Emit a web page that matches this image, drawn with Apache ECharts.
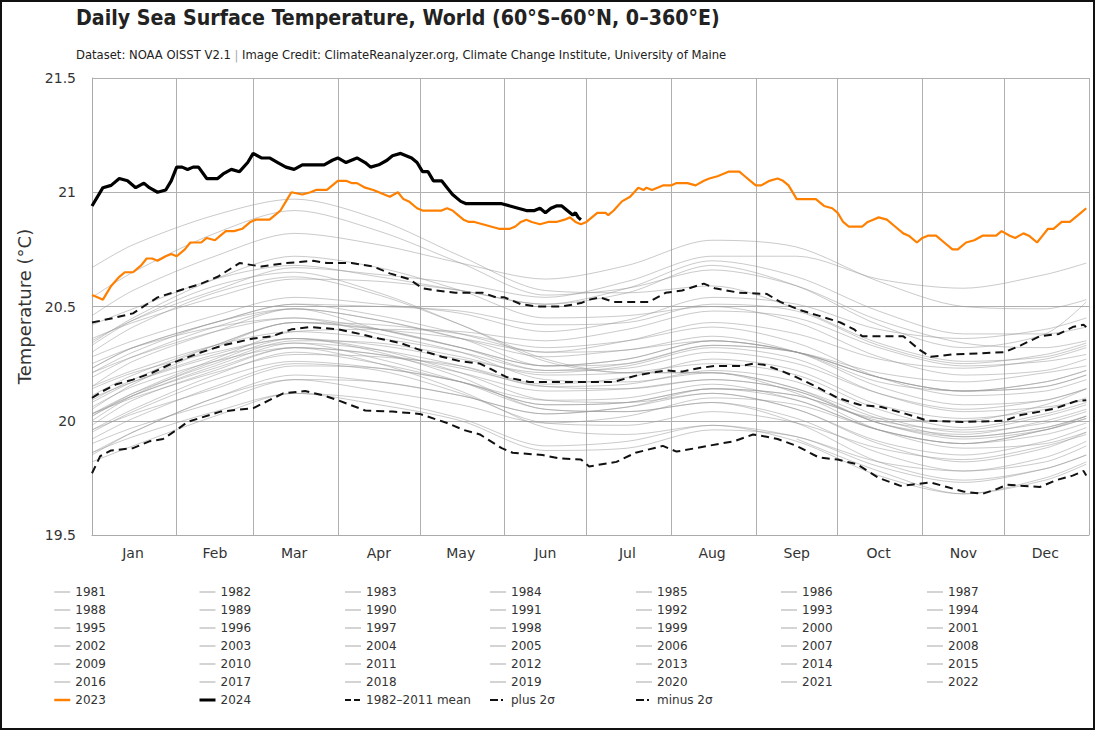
<!DOCTYPE html>
<html>
<head>
<meta charset="utf-8">
<script src="https://cdn.jsdelivr.net/npm/echarts@6/dist/echarts.min.js"></script>
<style>
html,body{margin:0;padding:0;background:#fff;}
#wrap{position:relative;width:1095px;height:730px;}
#chart{position:absolute;left:0;top:0;width:1095px;height:730px;}
#frame{position:absolute;left:0;top:0;width:1095px;height:730px;box-sizing:border-box;border:2px solid #111;pointer-events:none;}
</style>
</head>
<body>
<div id="wrap"><div id="chart"></div><div id="frame"></div></div>
<script>
// ---------- DATA ----------
const monthNames = ['Jan','Feb','Mar','Apr','May','Jun','Jul','Aug','Sep','Oct','Nov','Dec'];
const monthStartDays = [0,31,59,90,120,151,181,212,243,273,304,334,365];
const monthMidDays = [15,45,74,105,135,166,196,227,258,288,319,349];
const yTicks = [19.5,20,20.5,21,21.5];

// sample days used for the grey (historical) years
const greyDays = [0,15,45,74,105,135,166,196,227,258,288,319,349,364];
const greyYears = [1981,1982,1983,1984,1985,1986,1987,1988,1989,1990,1991,1992,1993,1994,1995,1996,1997,1998,1999,2000,2001,2002,2003,2004,2005,2006,2007,2008,2009,2010,2011,2012,2013,2014,2015,2016,2017,2018,2019,2020,2021,2022];
const greyValues = [
  [null,null,null,null,null,null,null,null,null,19.92,19.78,19.68,19.75,19.82],
  [19.85,19.95,20.10,20.20,20.17,20.11,20.03,20.06,20.14,20.11,20.01,20.00,20.07,20.14],
  [20.14,20.21,20.30,20.36,20.30,20.19,20.05,20.04,20.08,19.99,19.82,19.74,19.79,19.85],
  [19.86,19.93,20.04,20.12,20.09,20.01,19.89,19.91,19.98,19.91,19.76,19.68,19.74,19.81],
  [19.82,19.89,20.02,20.12,20.07,20.00,19.87,19.88,19.96,19.93,19.80,19.73,19.79,19.85],
  [19.86,19.95,20.10,20.18,20.13,20.07,19.99,20.02,20.10,20.07,19.96,19.90,19.94,19.99],
  [20.00,20.11,20.26,20.36,20.33,20.27,20.21,20.24,20.32,20.27,20.12,20.04,20.06,20.09],
  [20.10,20.17,20.28,20.34,20.27,20.17,20.05,20.04,20.08,20.01,19.86,19.78,19.82,19.89],
  [19.90,19.97,20.08,20.18,20.17,20.11,20.03,20.06,20.12,20.05,19.91,19.85,19.91,19.97],
  [19.98,20.09,20.22,20.32,20.29,20.21,20.13,20.14,20.18,20.13,19.99,19.92,19.96,20.01],
  [20.02,20.11,20.23,20.32,20.29,20.23,20.15,20.14,20.18,20.13,19.99,19.94,20.00,20.05],
  [20.06,20.15,20.26,20.32,20.25,20.13,19.97,19.94,19.98,19.93,19.82,19.78,19.84,19.91],
  [19.92,20.01,20.15,20.25,20.22,20.12,19.99,19.98,20.04,19.99,19.88,19.83,19.89,19.94],
  [19.95,20.04,20.18,20.26,20.23,20.17,20.07,20.08,20.14,20.11,20.00,19.96,20.02,20.07],
  [20.08,20.17,20.29,20.36,20.31,20.21,20.09,20.08,20.12,20.05,19.90,19.82,19.88,19.95],
  [19.96,20.03,20.14,20.24,20.23,20.17,20.07,20.08,20.14,20.09,19.96,19.90,19.96,20.01],
  [20.02,20.12,20.27,20.39,20.40,20.39,20.35,20.40,20.48,20.45,20.32,20.24,20.26,20.29],
  [20.30,20.41,20.56,20.63,20.55,20.42,20.27,20.21,20.21,20.12,19.96,19.88,19.90,19.95],
  [19.96,20.05,20.20,20.30,20.25,20.17,20.09,20.10,20.16,20.09,19.96,19.90,19.96,20.02],
  [20.03,20.11,20.24,20.34,20.31,20.24,20.15,20.16,20.22,20.17,20.02,19.95,19.99,20.04],
  [20.05,20.16,20.32,20.43,20.40,20.32,20.22,20.23,20.30,20.25,20.12,20.05,20.09,20.14],
  [20.15,20.26,20.39,20.49,20.44,20.36,20.28,20.31,20.35,20.30,20.19,20.13,20.15,20.20],
  [20.21,20.30,20.43,20.49,20.40,20.32,20.24,20.27,20.35,20.30,20.19,20.13,20.15,20.20],
  [20.21,20.28,20.39,20.45,20.40,20.32,20.24,20.27,20.35,20.30,20.17,20.13,20.17,20.22],
  [20.23,20.32,20.43,20.51,20.46,20.38,20.30,20.31,20.37,20.30,20.15,20.07,20.09,20.14],
  [20.15,20.22,20.33,20.39,20.36,20.30,20.22,20.25,20.33,20.30,20.21,20.17,20.21,20.24],
  [20.25,20.32,20.41,20.45,20.38,20.30,20.18,20.17,20.21,20.14,20.01,19.93,19.97,20.02],
  [20.03,20.10,20.21,20.29,20.28,20.24,20.16,20.19,20.27,20.22,20.07,20.01,20.05,20.10],
  [20.11,20.20,20.33,20.43,20.40,20.36,20.30,20.35,20.43,20.38,20.27,20.23,20.27,20.32],
  [20.33,20.44,20.59,20.65,20.56,20.42,20.26,20.21,20.21,20.14,19.99,19.93,19.97,20.02],
  [20.03,20.12,20.25,20.35,20.34,20.28,20.20,20.21,20.25,20.20,20.05,19.97,20.03,20.08],
  [20.09,20.18,20.33,20.43,20.42,20.38,20.32,20.35,20.41,20.34,20.19,20.11,20.13,20.18],
  [20.19,20.28,20.41,20.49,20.44,20.36,20.24,20.25,20.33,20.30,20.19,20.13,20.17,20.22],
  [20.23,20.32,20.43,20.51,20.50,20.48,20.42,20.43,20.51,20.48,20.33,20.25,20.29,20.34],
  [20.35,20.44,20.57,20.67,20.64,20.60,20.54,20.61,20.72,20.72,20.62,20.58,20.64,20.69],
  [20.67,20.77,20.90,20.97,20.88,20.72,20.57,20.56,20.59,20.49,20.34,20.26,20.28,20.33],
  [20.34,20.45,20.62,20.72,20.67,20.57,20.45,20.46,20.50,20.43,20.28,20.20,20.22,20.27],
  [20.28,20.35,20.46,20.54,20.51,20.47,20.39,20.44,20.54,20.51,20.40,20.36,20.40,20.45],
  [20.46,20.57,20.72,20.82,20.77,20.69,20.62,20.68,20.79,20.76,20.61,20.50,20.49,20.53],
  [20.54,20.65,20.82,20.92,20.83,20.69,20.55,20.58,20.66,20.59,20.44,20.34,20.32,20.35],
  [20.36,20.43,20.54,20.62,20.61,20.57,20.51,20.58,20.70,20.63,20.48,20.38,20.38,20.41],
  [20.42,20.49,20.62,20.68,20.63,20.57,20.51,20.56,20.68,20.59,20.42,20.32,20.38,20.52]
];

const y2023 = [[0,20.55],[2,20.54],[4,20.53],[7,20.59],[10,20.63],[12,20.65],[15,20.65],[18,20.68],[20,20.71],[22,20.71],[24,20.70],[27,20.72],[29,20.73],[31,20.72],[34,20.75],[36,20.78],[40,20.78],[42,20.80],[45,20.79],[47,20.81],[49,20.83],[52,20.83],[55,20.84],[58,20.87],[60,20.88],[65,20.88],[67,20.90],[69,20.92],[71,20.96],[73,21.00],[77,20.99],[80,21.00],[82,21.01],[86,21.01],[88,21.03],[90,21.05],[93,21.05],[95,21.04],[97,21.04],[100,21.02],[103,21.01],[105,21.00],[107,20.99],[109,20.98],[112,21.00],[114,20.97],[116,20.96],[119,20.93],[121,20.92],[128,20.92],[130,20.93],[132,20.92],[134,20.90],[136,20.88],[138,20.87],[140,20.87],[143,20.86],[146,20.85],[149,20.84],[153,20.84],[155,20.85],[157,20.87],[159,20.88],[161,20.87],[164,20.86],[167,20.87],[170,20.87],[173,20.88],[175,20.89],[177,20.87],[179,20.86],[181,20.87],[183,20.89],[185,20.91],[188,20.91],[189,20.90],[191,20.92],[194,20.96],[197,20.98],[200,21.02],[202,21.01],[203,21.02],[205,21.01],[207,21.02],[209,21.03],[212,21.03],[214,21.04],[218,21.04],[221,21.03],[224,21.05],[226,21.06],[229,21.07],[231,21.08],[233,21.09],[237,21.09],[239,21.07],[241,21.05],[243,21.03],[245,21.03],[248,21.05],[251,21.06],[253,21.05],[255,21.03],[258,20.97],[262,20.97],[265,20.97],[268,20.94],[271,20.93],[273,20.91],[275,20.87],[277,20.85],[282,20.85],[284,20.87],[286,20.88],[288,20.89],[291,20.88],[294,20.85],[297,20.82],[299,20.81],[302,20.78],[304,20.80],[306,20.81],[309,20.81],[312,20.78],[315,20.75],[317,20.75],[320,20.78],[323,20.79],[326,20.81],[331,20.81],[333,20.83],[336,20.81],[338,20.80],[341,20.82],[343,20.81],[346,20.78],[348,20.81],[350,20.84],[352,20.84],[355,20.87],[358,20.87],[360,20.89],[362,20.91],[364,20.93]];

const y2024 = [[0,20.94],[4,21.02],[7,21.03],[10,21.06],[13,21.05],[16,21.02],[19,21.04],[21,21.02],[24,21.00],[27,21.01],[29,21.05],[31,21.11],[33,21.11],[35,21.10],[37,21.11],[39,21.11],[42,21.06],[46,21.06],[48,21.08],[51,21.10],[54,21.09],[57,21.13],[59,21.17],[62,21.15],[65,21.15],[68,21.13],[71,21.11],[74,21.10],[77,21.12],[81,21.12],[85,21.12],[88,21.14],[90,21.15],[93,21.13],[97,21.15],[100,21.13],[102,21.11],[105,21.12],[108,21.14],[110,21.16],[113,21.17],[115,21.16],[117,21.15],[119,21.13],[121,21.09],[123,21.09],[125,21.05],[128,21.05],[130,21.02],[132,20.99],[135,20.96],[137,20.95],[139,20.95],[150,20.95],[153,20.94],[156,20.93],[159,20.92],[162,20.92],[164,20.93],[166,20.91],[168,20.93],[170,20.94],[172,20.94],[174,20.92],[176,20.90],[177,20.91],[178,20.89],[179,20.88]];

const meanLine = [[0,20.10],[4,20.13],[9,20.16],[15,20.18],[22,20.21],[31,20.26],[40,20.30],[48,20.33],[59,20.36],[66,20.37],[73,20.40],[80,20.41],[90,20.40],[98,20.38],[105,20.36],[113,20.34],[120,20.31],[128,20.28],[135,20.26],[142,20.25],[147,20.22],[152,20.19],[160,20.17],[175,20.17],[191,20.17],[200,20.20],[210,20.22],[216,20.215],[222,20.23],[228,20.24],[238,20.24],[242,20.25],[246,20.245],[252,20.22],[258,20.19],[265,20.15],[273,20.10],[281,20.07],[289,20.06],[298,20.03],[306,20.00],[319,19.995],[334,20.00],[340,20.025],[347,20.04],[353,20.055],[360,20.085],[364,20.09]];

const plus2sd = [[0,20.43],[8,20.45],[15,20.47],[24,20.54],[32,20.57],[40,20.60],[46,20.63],[54,20.69],[62,20.675],[71,20.69],[81,20.70],[86,20.69],[95,20.69],[103,20.675],[109,20.645],[116,20.62],[121,20.58],[126,20.57],[133,20.56],[143,20.56],[148,20.54],[151,20.54],[157,20.51],[163,20.50],[172,20.50],[179,20.515],[182,20.53],[186,20.54],[191,20.52],[204,20.52],[210,20.56],[216,20.57],[224,20.60],[228,20.58],[237,20.56],[247,20.555],[252,20.52],[259,20.485],[266,20.46],[274,20.43],[279,20.40],[282,20.37],[290,20.37],[297,20.37],[303,20.31],[307,20.28],[315,20.29],[334,20.30],[340,20.33],[347,20.37],[354,20.38],[359,20.41],[363,20.42],[364,20.41]];

const minus2sd = [[0,19.77],[3,19.845],[7,19.87],[15,19.88],[21,19.91],[26,19.92],[31,19.96],[35,19.995],[47,20.04],[59,20.055],[70,20.12],[78,20.13],[85,20.11],[90,20.09],[100,20.045],[110,20.04],[120,20.03],[130,19.99],[136,19.96],[142,19.94],[150,19.88],[154,19.86],[165,19.85],[171,19.835],[179,19.83],[182,19.80],[192,19.82],[199,19.86],[209,19.89],[214,19.865],[221,19.88],[230,19.90],[235,19.91],[242,19.94],[247,19.93],[251,19.92],[258,19.89],[266,19.84],[273,19.83],[280,19.81],[288,19.75],[296,19.715],[307,19.73],[313,19.71],[319,19.69],[326,19.68],[331,19.70],[335,19.72],[347,19.71],[353,19.74],[359,19.76],[363,19.78],[364,19.76]];

// ---------- CHART ----------
const FONT = 'DejaVu Sans';
const dayCats = [];
for (let i = 0; i <= 365; i++) dayCats.push(String(i));

const series = [];
greyYears.forEach((yr, k) => {
  const pts = [];
  greyDays.forEach((d, j) => { const v = greyValues[k][j]; if (v != null) pts.push([d, v]); });
  series.push({
    name: String(yr), type: 'line', data: pts, symbol: 'none', smooth: 0.3,
    lineStyle: { color: 'rgba(150,150,150,0.5)', width: 1 }, itemStyle: { color: '#cfcfcf' },
    z: 2, silent: true
  });
});
const dashStyle = (w) => ({ color: '#111', width: w, type: [8, 5] });
series.push({ name: '1982–2011 mean', type: 'line', data: meanLine, symbol: 'none', lineStyle: dashStyle(2), itemStyle:{color:'#111'}, z: 4 });
series.push({ name: 'plus 2σ', type: 'line', data: plus2sd, symbol: 'none', lineStyle: dashStyle(2), itemStyle:{color:'#111'}, z: 4 });
series.push({ name: 'minus 2σ', type: 'line', data: minus2sd, symbol: 'none', lineStyle: dashStyle(2), itemStyle:{color:'#111'}, z: 4 });
series.push({ name: '2023', type: 'line', data: y2023, symbol: 'none', lineStyle: { color: '#ff8000', width: 2.2 }, itemStyle:{color:'#ff8000'}, z: 5 });
series.push({ name: '2024', type: 'line', data: y2024, symbol: 'none', lineStyle: { color: '#000', width: 3.2 }, itemStyle:{color:'#000'}, z: 6 });

// legend columns (7 columns)
const colX = [53, 198, 344, 489, 635, 780, 926];
const legendCols = colX.map(() => []);
const hideSym = { opacity: 0 };
greyYears.forEach((yr, k) => {
  legendCols[k % 7].push({ name: String(yr), itemStyle: hideSym, lineStyle: { color: '#d4d4d4', width: 2, type: 'solid' } });
});
legendCols[0].push({ name: '2023', itemStyle: hideSym, lineStyle: { color: '#ff8000', width: 2.5, type: 'solid' } });
legendCols[1].push({ name: '2024', itemStyle: hideSym, lineStyle: { color: '#000', width: 3, type: 'solid' } });
legendCols[2].push({ name: '1982–2011 mean', itemStyle: hideSym, lineStyle: { color: '#111', width: 2, type: [6, 3] } });
legendCols[3].push({ name: 'plus 2σ', itemStyle: hideSym, lineStyle: { color: '#111', width: 2, type: [8, 3, 2, 3] } });
legendCols[4].push({ name: 'minus 2σ', itemStyle: hideSym, lineStyle: { color: '#111', width: 2, type: [8, 3, 2, 3] } });

const legends = colX.map((x, c) => ({
  orient: 'vertical', left: x, top: 585, padding: 0,
  itemWidth: 16, itemHeight: 14, itemGap: 4,
  itemStyle: { opacity: 0 },
  textStyle: { fontFamily: FONT, fontSize: 12, color: '#333', lineHeight: 14 },
  data: legendCols[c], selectedMode: false
}));

const chart = echarts.init(document.getElementById('chart'), null, { renderer: 'svg' });
chart.setOption({
  animation: false,
  backgroundColor: '#fff',
  textStyle: { fontFamily: FONT },
  title: [
    { text: 'Daily Sea Surface Temperature, World (60°S–60°N, 0–360°E)', left: 76, top: 7, padding: 0,
      textStyle: { fontFamily: "'DejaVu Sans Condensed', 'DejaVu Sans'", fontSize: 21.2, fontWeight: 'bold', color: '#222' } },
    { text: 'Dataset: NOAA OISST V2.1 {p||} Image Credit: ClimateReanalyzer.org, Climate Change Institute, University of Maine',
      left: 76, top: 49, padding: 0,
      textStyle: { fontFamily: FONT, fontSize: 11.6, fontWeight: 'normal', color: '#222',
        rich: { p: { color: '#aaa', fontSize: 11.6, fontFamily: FONT } } } }
  ],
  legend: legends,
  grid: { left: 92, right: 6, top: 78, bottom: 195, containLabel: false },
  xAxis: {
    type: 'category', data: dayCats, boundaryGap: false,
    axisLine: { show: true, lineStyle: { color: '#aaa', width: 1 } },
    axisTick: { show: false },
    splitLine: { show: true, interval: (i) => monthStartDays.indexOf(i) >= 0, lineStyle: { color: '#b0b0b0', width: 1 } },
    axisLabel: {
      interval: (i) => monthMidDays.indexOf(i) >= 0,
      formatter: (v) => { const k = monthMidDays.indexOf(Number(v)); return k >= 0 ? monthNames[k] : ''; },
      fontFamily: FONT, fontSize: 14, color: '#333', margin: 11
    }
  },
  yAxis: {
    type: 'value', min: yTicks[0], max: yTicks[yTicks.length - 1], interval: 0.5,
    name: 'Temperature (°C)', nameLocation: 'middle', nameGap: 57,
    nameTextStyle: { fontFamily: FONT, fontSize: 18, color: '#333' },
    axisLine: { show: true, lineStyle: { color: '#aaa', width: 1 } },
    axisTick: { show: false },
    splitLine: { show: true, lineStyle: { color: '#b0b0b0', width: 1 } },
    axisLabel: { fontFamily: FONT, fontSize: 14, color: '#333', margin: 16 }
  },
  series: series
});
</script>
</body>
</html>
